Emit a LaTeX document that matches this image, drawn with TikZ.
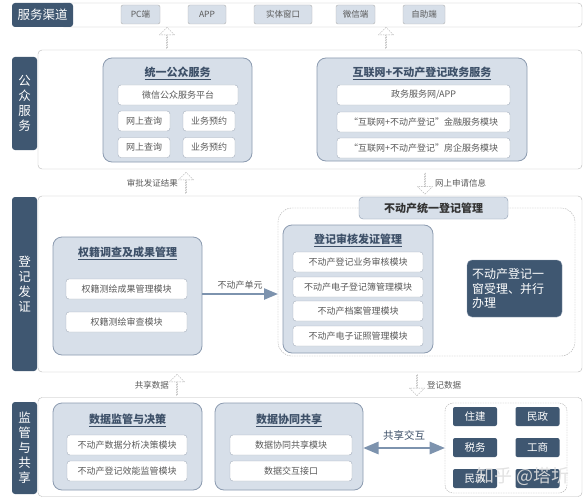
\documentclass[tikz,border=0pt]{standalone}
\usepackage{fontspec}
\setmainfont{Noto Sans CJK SC}
\usepackage{xcolor}
\usetikzlibrary{shapes,arrows,positioning,fit,calc}
\definecolor{slate}{HTML}{3F5771}
\definecolor{grpfill}{HTML}{D7DFE9}
\definecolor{grpline}{HTML}{8C9BB0}
\definecolor{boxline}{HTML}{A3ADBB}
\definecolor{txtgray}{HTML}{5A5A5A}
\definecolor{titlecol}{HTML}{3D5068}
\definecolor{arrowcol}{HTML}{7D93AE}
\tikzstyle{rowbox} = [draw=gray!55, fill=white, rounded corners=4pt, inner sep=0pt]
\tikzstyle{lane} = [fill=slate, rounded corners=3pt, text=white, align=center,
    inner sep=0pt, font=\fontsize{12.5}{15}\selectfont]
\tikzstyle{chan} = [draw=gray!60, fill=grpfill, rounded corners=2pt, minimum height=19pt,
    inner sep=0pt, text=txtgray, font=\fontsize{8.5}{10}\selectfont]
\tikzstyle{group} = [draw=grpline, fill=grpfill, rounded corners=9pt, inner sep=0pt, line width=0.8pt]
\tikzstyle{gtitle} = [text=titlecol, font=\bfseries\fontsize{11}{13}\selectfont]
\tikzstyle{module} = [draw=boxline, fill=white, rounded corners=3pt, minimum height=20pt,
    inner sep=0pt, text=txtgray, font=\fontsize{9}{11}\selectfont]
\tikzstyle{hollow} = [draw=gray!65, dash pattern=on 1.5pt off 1pt, single arrow,
    single arrow head extend=4pt, single arrow head indent=0pt, minimum height=21pt,
    minimum width=15pt, inner sep=0pt]
\tikzstyle{flowtext} = [text=txtgray, font=\fontsize{8.5}{10}\selectfont]
\tikzstyle{dept} = [fill=slate, rounded corners=2pt, minimum width=44pt, minimum height=19pt,
    inner sep=0pt, text=white, font=\fontsize{10.5}{12}\selectfont]
\tikzstyle{connector} = [-triangle 45, line width=2.2pt, draw=arrowcol]
\tikzstyle{biconnector} = [triangle 45-triangle 45, line width=2.6pt, draw=arrowcol]

\begin{document}
\begin{tikzpicture}[x=1pt, y=-1pt]
		\useasboundingbox (0,0) rectangle (585,500);
		% rows
		\node[rowbox, minimum width=522, minimum height=24] (chanrow) at (321,15) {};
		\node[rowbox, minimum width=544, minimum height=119] (pubrow) at (310,109.5) {};
		\node[rowbox, minimum width=544, minimum height=176] (regrow) at (310,284) {};
		\node[rowbox, minimum width=544, minimum height=99] (suprow) at (310,447) {};
		
		\node[lane, minimum width=61, minimum height=24] (chanlbl) at (42.5,15) {服务渠道};
		\node[lane, minimum width=25, minimum height=93] (publbl) at (24.5,103.5) {公\\众\\服\\务};
		\node[lane, minimum width=25, minimum height=174] (reglbl) at (24.5,284) {登\\记\\发\\证};
		\node[lane, minimum width=25, minimum height=92] (suplbl) at (24.5,448) {监\\管\\与\\共\\享};
		
		% channels
		\node[chan, minimum width=39] (pc) at (140.5,14.5) {PC端};
		\node[chan, minimum width=38] (app) at (207,14.5) {APP};
		\node[chan, minimum width=58] (window) at (283,14.5) {实体窗口};
		\node[chan, minimum width=39] (wechat) at (355.5,14.5) {微信端};
		\node[chan, minimum width=42] (self) at (424,14.5) {自助端};
		\node[hollow, shape border rotate=90] (upA) at (167,38) {};
		\node[hollow, shape border rotate=90] (upB) at (386,38) {};
		
		% public service
		\node[group, minimum width=149, minimum height=104] (unified) at (177.5,110) {};
		\node[gtitle] (unifiedt) at (177.5,73) {\underline{统一公众服务}};
		\node[module, minimum width=120] (wxpf) at (178,95) {微信公众服务平台};
		\node[module, minimum width=52] (queryA) at (144,121) {网上查询};
		\node[module, minimum width=52] (bookA) at (209,121) {业务预约};
		\node[module, minimum width=52] (queryB) at (144,147.5) {网上查询};
		\node[module, minimum width=52] (bookB) at (209,147.5) {业务预约};
		
		\node[group, minimum width=210, minimum height=103] (online) at (422,109.5) {};
		\node[gtitle] (onlinet) at (422,73) {\underline{互联网+不动产登记政务服务}};
		\node[module, minimum width=173] (govnet) at (423.5,95) {政务服务网/APP};
		\node[module, minimum width=173] (finance) at (423.5,122) {“互联网+不动产登记”金融服务模块};
		\node[module, minimum width=173] (estate) at (423.5,148) {“互联网+不动产登记”房企服务模块};
		
		\node[hollow, shape border rotate=90] (upC) at (186,183) {};
		\node[flowtext, left=4pt of upC] (result) {审批发证结果};
		\node[hollow, shape border rotate=270] (downA) at (425,183.5) {};
		\node[flowtext, right=6pt of downA] (apply) {网上申请信息};
		
		% registration
		\node[group, minimum width=149, minimum height=118] (survey) at (127.5,296) {};
		\node[gtitle] (surveyt) at (127.5,253) {\underline{权籍调查及成果管理}};
		\node[module, minimum width=121] (surveyA) at (126.5,289) {权籍测绘成果管理模块};
		\node[module, minimum width=121] (surveyB) at (126.5,322) {权籍测绘审查模块};
		
		\node[draw=gray!65, dash pattern=on 1.5pt off 1pt, rounded corners=14pt,
		    minimum width=297, minimum height=148, inner sep=0pt] (unireg) at (426.5,282) {};
		\node[draw=grpline, fill=grpfill, rounded corners=4pt, minimum width=149, minimum height=22,
		    inner sep=0pt, text=black!80, font=\bfseries\fontsize{11}{13}\selectfont] (uniregt) at (433.5,208) {不动产统一登记管理};
		\node[group, minimum width=150, minimum height=128] (audit) at (358,289) {};
		\node[gtitle] (auditt) at (358,240) {\underline{登记审核发证管理}};
		\node[module, minimum width=130] (auditA) at (358,262) {不动产登记业务审核模块};
		\node[module, minimum width=130] (auditB) at (358,287) {不动产电子登记簿管理模块};
		\node[module, minimum width=130] (auditC) at (358,311) {不动产档案管理模块};
		\node[module, minimum width=130] (auditD) at (358,336) {不动产电子证照管理模块};
		\node[fill=slate, draw=grpline, rounded corners=5pt, minimum width=95, minimum height=57,
		    text width=85pt, align=left, inner sep=0pt, text=white,
		    font=\fontsize{12}{14.5}\selectfont] (onewin) at (514.5,288.5) {不动产登记一\\窗受理、并行\\办理};
		
		\draw[connector] (survey.east |- 0,294) to node[above, text=txtgray, font=\fontsize{9}{11}\selectfont] {不动产单元} (unireg.west |- 0,294);
		
		\node[hollow, shape border rotate=90] (upD) at (177,385) {};
		\node[flowtext, left=4pt of upD] (share) {共享数据};
		\node[hollow, shape border rotate=270] (downB) at (417,385) {};
		\node[flowtext, right=6pt of downB] (regdata) {登记数据};
		
		% supervision and sharing
		\node[group, minimum width=149, minimum height=87] (monitor) at (127.5,446.5) {};
		\node[gtitle] (monitort) at (127.5,420) {\underline{数据监管与决策}};
		\node[module, minimum width=120] (monitorA) at (127,445) {不动产数据分析决策模块};
		\node[module, minimum width=120] (monitorB) at (127,471) {不动产登记效能监管模块};
		
		\node[group, minimum width=148, minimum height=87] (cowork) at (289,446.5) {};
		\node[gtitle] (coworkt) at (289,420) {\underline{数据协同共享}};
		\node[module, minimum width=122] (coworkA) at (291,445) {数据协同共享模块};
		\node[module, minimum width=122] (coworkB) at (291,471) {数据交互接口};
		
		\node[draw=gray!65, dash pattern=on 1.5pt off 1pt, rounded corners=8pt,
		    minimum width=122, minimum height=90, inner sep=0pt] (depts) at (506,448) {};
		\node[dept] (housing) at (475,416.5) {住建};
		\node[dept] (civilA) at (537.5,416.5) {民政};
		\node[dept] (tax) at (475,447.5) {税务};
		\node[dept] (commerce) at (537.5,447.5) {工商};
		\node[dept] (civilB) at (475,478.5) {民政};
		\node[dept] (hidden) at (537.5,478.5) {};
		
		\draw[biconnector] (cowork.east |- 0,448) to node[above=3pt, text=titlecol, font=\fontsize{10.5}{12}\selectfont] {共享交互} (depts.west |- 0,448);
		
		\node[text=white!75!gray, opacity=0.9, font=\fontsize{18}{20}\selectfont] (mark) at (523,476) {知乎 @塔圻};
	\end{tikzpicture}
\end{document}
